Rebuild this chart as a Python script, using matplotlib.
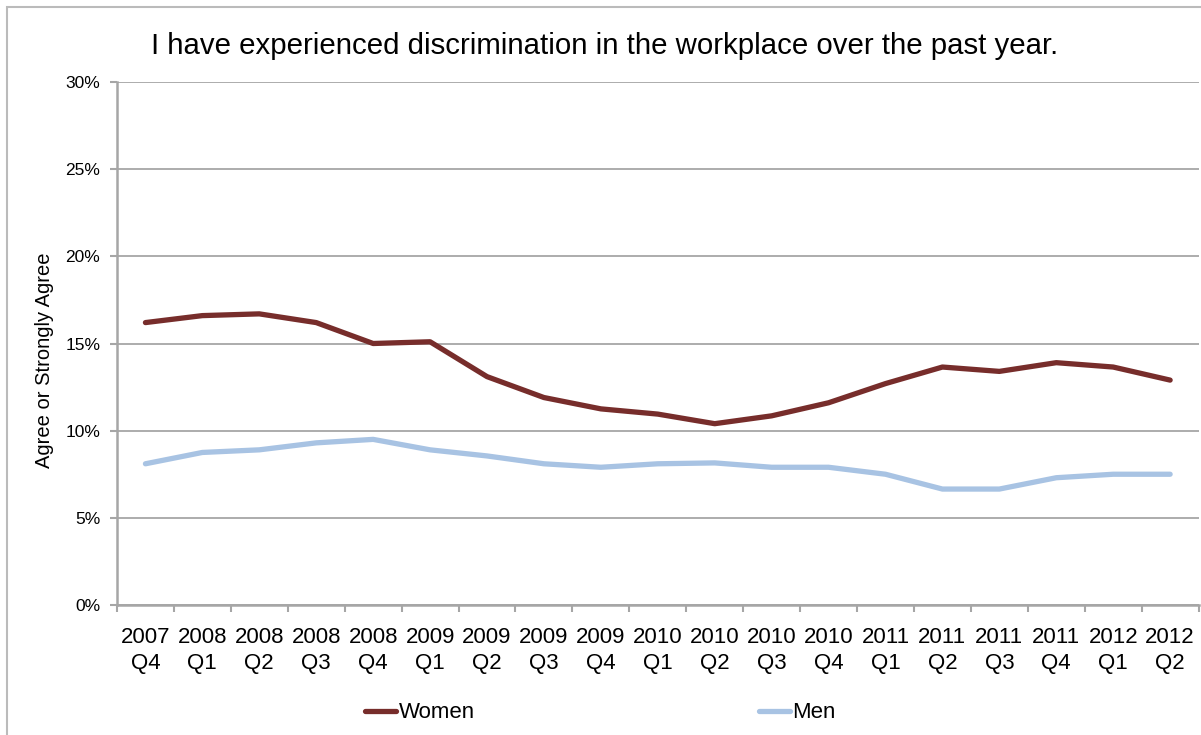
import matplotlib
matplotlib.use('Agg')
import matplotlib.pyplot as plt
from matplotlib.patches import Rectangle
from matplotlib.ticker import FixedLocator, PercentFormatter

plt.rcParams['font.family'] = ['Liberation Sans', 'DejaVu Sans']

quarters = ['2007\nQ4', '2008\nQ1', '2008\nQ2', '2008\nQ3', '2008\nQ4',
            '2009\nQ1', '2009\nQ2', '2009\nQ3', '2009\nQ4', '2010\nQ1',
            '2010\nQ2', '2010\nQ3', '2010\nQ4', '2011\nQ1', '2011\nQ2',
            '2011\nQ3', '2011\nQ4', '2012\nQ1', '2012\nQ2']
women = [16.2, 16.6, 16.7, 16.2, 15.0, 15.1, 13.1, 11.9, 11.25, 10.95,
         10.4, 10.85, 11.6, 12.7, 13.65, 13.4, 13.9, 13.65, 12.9]
men = [8.1, 8.75, 8.9, 9.3, 9.5, 8.9, 8.55, 8.1, 7.9, 8.1,
       8.15, 7.9, 7.9, 7.5, 6.65, 6.65, 7.3, 7.5, 7.5]

fig = plt.figure(figsize=(12.01, 7.35), dpi=100)
ax = fig.add_axes([0.0974, 0.1769, 0.9006, 0.7115])

# frame round the chart, like the exported Excel picture
fig.patches.append(Rectangle((7 / 1201, -0.05), 1.2, 1 - 7 / 735 + 0.05,
                             transform=fig.transFigure, facecolor='none',
                             edgecolor='#BBBBBB', linewidth=1.5))

x = list(range(len(quarters)))
ax.plot(x, women, color='#772D2B', lw=3.8, solid_capstyle='round',
        solid_joinstyle='round', label='Women', zorder=3)
ax.plot(x, men, color='#A8C3E3', lw=3.8, solid_capstyle='round',
        solid_joinstyle='round', label='Men', zorder=3)

ax.set_xlim(-0.5, len(quarters) - 0.5)
ax.set_ylim(0, 30)
ax.set_yticks(range(0, 31, 5))
ax.yaxis.set_major_formatter(PercentFormatter(decimals=0))
ax.grid(axis='y', color='#A6A6A6', lw=1.3)
ax.set_axisbelow(True)

ax.xaxis.set_major_locator(FixedLocator([i - 0.5 for i in range(len(quarters) + 1)]))
ax.xaxis.set_major_formatter(plt.NullFormatter())
ax.xaxis.set_minor_locator(FixedLocator(x))
ax.set_xticklabels(quarters, minor=True, fontsize=16, linespacing=1.3)
ax.tick_params(axis='x', which='major', length=5, width=1.5, color='#A6A6A6')
ax.tick_params(axis='x', which='minor', length=0, pad=16)
ax.tick_params(axis='y', length=5, width=1.5, color='#A6A6A6', labelsize=12.5, pad=7)

for s in ['top', 'right']:
    ax.spines[s].set_visible(False)
for s in ['left', 'bottom']:
    ax.spines[s].set_color('#A6A6A6')
    ax.spines[s].set_linewidth(1.8)

fig.text(45 / 1201, 1 - 360 / 735, 'Agree or Strongly Agree', rotation=90,
         ha='center', va='center', fontsize=14.5)
fig.text(0.503, 0.938, 'I have experienced discrimination in the workplace over the past year.',
         ha='center', va='center', fontsize=21.2)

fig.legend(loc='center', bbox_to_anchor=(0.500, 0.030), ncol=2, frameon=False,
           fontsize=16, handlelength=1.4, handletextpad=0.1, columnspacing=12.8)

fig.savefig('out.png', dpi=100)
